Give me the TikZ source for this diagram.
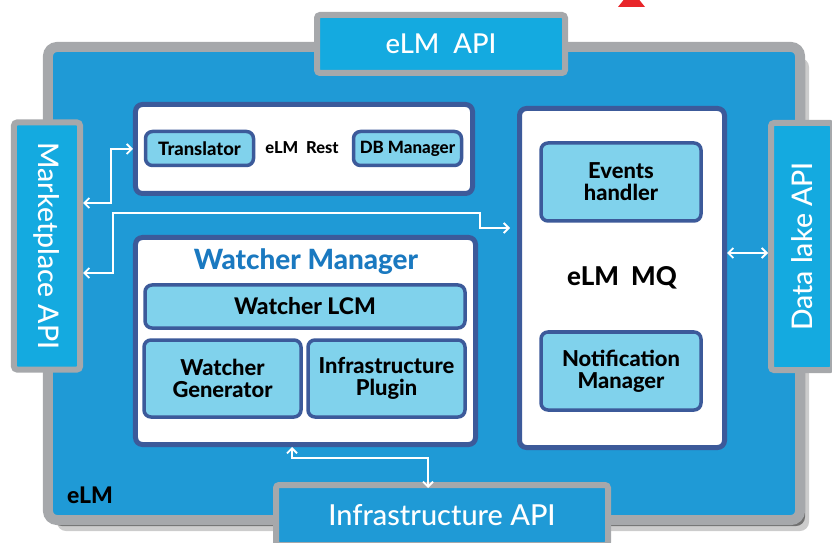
\documentclass[tikz,border=0pt]{standalone}
\usepackage{fontspec}
\setmainfont{Lato}[BoldFont={Lato Heavy}]
\newfontfamily\apifont{Lato Medium}
\usetikzlibrary{arrows.meta,shadows}

\definecolor{framegray}{HTML}{A6A8AB}
\definecolor{elmblue}{HTML}{1F9AD6}
\definecolor{apicyan}{HTML}{14AAE0}
\definecolor{panelline}{HTML}{3C5A9A}
\definecolor{partfill}{HTML}{80D2EC}
\definecolor{titleblue}{HTML}{1A79C0}
\definecolor{markred}{HTML}{E8262A}

\begin{document}
\begin{tikzpicture}[x=1bp, y=-1bp,
    frame/.style={draw=framegray, line width=10bp, fill=elmblue, rounded corners=9bp},
    api/.style={draw=framegray, line width=6bp, fill=apicyan, rounded corners=3bp, text=white, inner sep=0pt, font=\apifont\fontsize{27.5}{30}\selectfont},
    panel/.style={draw=panelline, line width=5bp, fill=white, rounded corners=7bp, inner sep=0pt},
    part/.style={draw=panelline, line width=3.5bp, fill=partfill, rounded corners=7bp, inner sep=0pt, align=center, font=\bfseries\fontsize{22}{22}\selectfont},
    label/.style={font=\bfseries\fontsize{16.5}{19}\selectfont},
    link/.style={draw=white, line width=1.8bp, {Straight Barb[length=5bp,width=10bp]}-{Straight Barb[length=5bp,width=10bp]}}
]
\useasboundingbox (0,0) rectangle (832,543);

% Outer eLM frame (background)
\node[frame, minimum width=752bp, minimum height=473bp,
      drop shadow={shadow xshift=9bp, shadow yshift=-11bp, opacity=0.2, fill=black},
      drop shadow={shadow xshift=5bp, shadow yshift=-6bp, opacity=0.45, fill=black}] (elm) at (424,283.5) {};
\node[font=\bfseries\fontsize{23}{24}\selectfont] (elmlabel) at (90,495) {eLM};

% Interfaces on the frame
\node[api, minimum width=248bp, minimum height=58bp] (top) at (441,44) {eLM~ API};
\node[api, minimum width=247bp, minimum height=66bp, rotate=-90, font=\apifont\fontsize{28.5}{30}\selectfont] (mkt) at (47,246) {Marketplace API};
\node[api, minimum width=247bp, minimum height=62bp, rotate=90, font=\apifont\fontsize{28.5}{30}\selectfont] (lake) at (802,246.5) {Data lake API};
\node[api, fill=elmblue, minimum width=332bp, minimum height=60bp, font=\apifont\fontsize{29}{30}\selectfont] (infra) at (442,515) {Infrastructure API};

% Small red mark at the top edge
\fill[markred] (618,7) -- (645,7) -- (631.5,-10) -- cycle;

% eLM Rest
\node[panel, minimum width=337bp, minimum height=89bp] (rest) at (304,149) {};
\node[part, font=\bfseries\fontsize{18.5}{19}\selectfont, minimum width=108bp, minimum height=34bp] (trans) at (199.5,148.5) {Translator};
\node[label] (restlabel) at (302,148) {eLM~ Rest};
\node[part, font=\bfseries\fontsize{17}{19}\selectfont, minimum width=108bp, minimum height=34bp] (db) at (407.5,148.5) {DB Manager};

% Watcher Manager
\node[panel, minimum width=340bp, minimum height=207bp] (wm) at (305.5,341) {};
\node[font=\bfseries\fontsize{28}{29}\selectfont, text=titleblue] (wmtitle) at (306,262) {Watcher Manager};
\node[part, font=\bfseries\fontsize{23}{23}\selectfont, minimum width=320bp, minimum height=43bp] (lcm) at (305,306.5) {Watcher LCM};
\node[part, minimum width=157bp, minimum height=77bp] (gen) at (222.5,378.5) {Watcher\\Generator};
\node[part, minimum width=157bp, minimum height=77bp] (plug) at (386.5,378.5) {Infrastructure\\Plugin};

% eLM MQ
\node[panel, minimum width=205bp, minimum height=339bp] (mq) at (622,278) {};
\node[part, minimum width=160bp, minimum height=78bp] (events) at (621,182) {Events\\handler};
\node[font=\bfseries\fontsize{26}{27}\selectfont] (mqlabel) at (622,278) {eLM~ MQ};
\node[part, minimum width=160bp, minimum height=78bp] (notif) at (621,371) {Notification\\Manager};

% Connectors
\draw[link] (mkt.north |- 0,203) -| ([xshift=-22bp]rest.west) -- (rest.west);
\draw[link] (mkt.north |- 0,273) -| (113,213) -| (480,228) -- ([xshift=-7bp]mq.west |- 0,228);
\draw[link] (mq.east |- 0,253) -- (lake.north |- 0,253);
\draw[link] (wm.south -| 292,0) -- ++(0,11) -| ([yshift=-6bp]infra.north -| 428,0);

\end{tikzpicture}
\end{document}
